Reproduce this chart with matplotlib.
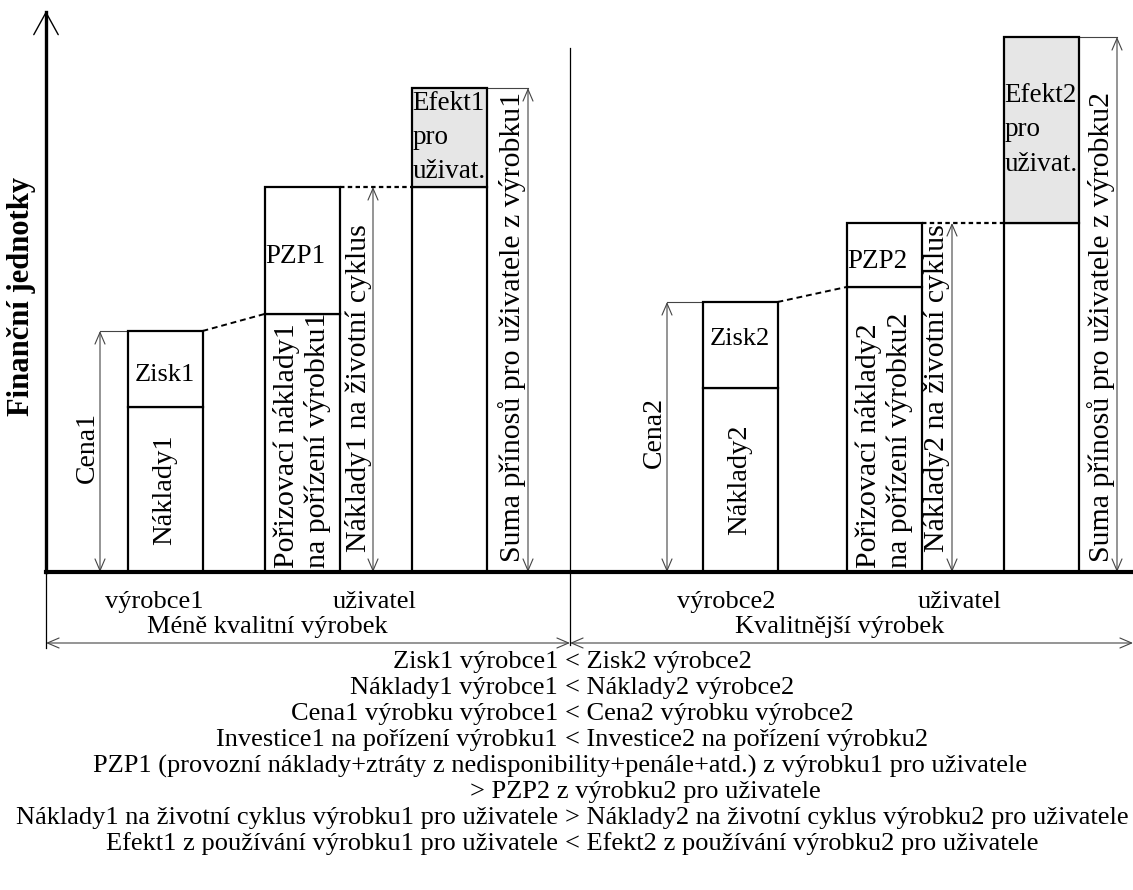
import matplotlib.pyplot as plt

plt.rcParams['font.family'] = ['Liberation Serif', 'DejaVu Serif']

# hodnoty ve financnich jednotkach: [mene kvalitni vyrobek, kvalitnejsi vyrobek]
naklady = [165, 184]
zisk = [76, 86]
porizovaci = [258, 285]
pzp = [127, 64]
efekt = [99, 186]

cena = [n + z for n, z in zip(naklady, zisk)]
zivotni = [p + q for p, q in zip(porizovaci, pzp)]
suma = [z + e for z, e in zip(zivotni, efekt)]

skupiny = ['Méně kvalitní výrobek', 'Kvalitnější výrobek']
# porovnani: (leva cast, prava cast se znamenkem)
porovnani = [
    ('Zisk1 výrobce1', '< Zisk2 výrobce2'),
    ('Náklady1 výrobce1', '< Náklady2 výrobce2'),
    ('Cena1 výrobku výrobce1', '< Cena2 výrobku výrobce2'),
    ('Investice1 na pořízení výrobku1', '< Investice2 na pořízení výrobku2'),
    ('PZP1 (provozní náklady+ztráty z nedisponibility+penále+atd.) z výrobku1 pro uživatele', None),
    (None, '> PZP2 z výrobku2 pro uživatele'),
    ('Náklady1 na životní cyklus výrobku1 pro uživatele', '> Náklady2 na životní cyklus výrobku2 pro uživatele'),
    ('Efekt1 z používání výrobku1 pro uživatele', '< Efekt2 z používání výrobku2 pro uživatele'),
]

# rozlozeni (x pozice sloupcu a sipek)
w = 75
x_vyr = [165, 740]
x_uziv = [302, 884]
x_ef = [449, 1041]
x_cena = [100, 667]
x_ziv = [373, 952]
x_suma = [528, 1117]
x_sep = 570
x_osa = 46

fig = plt.figure(figsize=(11.33, 8.9), dpi=100)
ax = fig.add_axes([0, 0, 1, 1])
ax.set_xlim(0, 1133)
ax.set_ylim(-318, 572)
ax.axis('off')

bar_kw = dict(width=w, edgecolor='black', linewidth=1.6, zorder=3)
big = 19
rot = 21.5
thin = dict(arrowstyle='<->,head_length=0.7,head_width=0.3', color='#444444',
            lw=0.8, shrinkA=0, shrinkB=0, mutation_scale=12)

for i in range(2):
    n = i + 1
    # vyrobce
    ax.bar(x_vyr[i], naklady[i], color='white', **bar_kw)
    ax.bar(x_vyr[i], zisk[i], bottom=naklady[i], color='white', **bar_kw)
    # uzivatel - porizovaci naklady + PZP
    ax.bar(x_uziv[i], porizovaci[i], color='white', **bar_kw)
    ax.bar(x_uziv[i], pzp[i], bottom=porizovaci[i], color='white', **bar_kw)
    # efekt
    ax.bar(x_ef[i], zivotni[i], color='white', **bar_kw)
    ax.bar(x_ef[i], efekt[i], bottom=zivotni[i], color='#e6e6e6', **bar_kw)

    # spojnice
    ax.plot([x_vyr[i] + w / 2, x_uziv[i] - w / 2], [cena[i], porizovaci[i]],
            color='black', lw=1.4, ls=(0, (3, 2)), zorder=2)
    ax.plot([x_uziv[i] + w / 2, x_ef[i] - w / 2], [zivotni[i], zivotni[i]],
            color='black', lw=1.6, ls=(0, (2, 1.5)), zorder=2)

    # kotovaci sipky
    ax.annotate('', xy=(x_cena[i], cena[i]), xytext=(x_cena[i], 0), arrowprops=thin)
    ax.plot([x_cena[i], x_vyr[i] - w / 2], [cena[i], cena[i]], color='#444444', lw=0.8)
    ax.annotate('', xy=(x_ziv[i], zivotni[i]), xytext=(x_ziv[i], 0), arrowprops=thin)
    ax.annotate('', xy=(x_suma[i], suma[i]), xytext=(x_suma[i], 0), arrowprops=thin)
    ax.plot([x_ef[i] + w / 2, x_suma[i]], [suma[i], suma[i]], color='#444444', lw=0.8)

    # popisky
    ax.text(x_cena[i] - 13, cena[i] / 2 + 4, f'Cena{n}', rotation=90, fontsize=20,
            ha='center', va='center')
    ax.text(x_vyr[i], naklady[i] / 2, f'Náklady{n}', rotation=90, fontsize=20.5,
            ha='center', va='center', zorder=4)
    ax.text(x_vyr[i], naklady[i] + zisk[i] / 2 + [-6, 6][i], f'Zisk{n}', fontsize=big,
            ha='center', va='center', zorder=4)
    ax.text(x_uziv[i] - w / 2 + 1, porizovaci[i] + pzp[i] / 2 - 6, f'PZP{n}', fontsize=19.5,
            ha='left', va='center', zorder=4)
    ax.text(x_uziv[i], 4, f'Pořizovací náklady{n}\nna pořízení výrobku{n}', rotation=90,
            rotation_mode='anchor', fontsize=rot, ha='left', va='center',
            multialignment='left', linespacing=1.2, zorder=4)
    ax.text(x_ziv[i] - 15, 20, f'Náklady{n} na životní cyklus', rotation=90,
            rotation_mode='anchor', fontsize=rot, ha='left', va='center', zorder=4)
    ax.text(x_suma[i] - 16, 10, f'Suma přínosů pro uživatele z výrobku{n}', rotation=90,
            rotation_mode='anchor', fontsize=rot, ha='left', va='center', zorder=4)
    ax.text(x_ef[i] - w / 2 + 1, zivotni[i] + efekt[i] / 2, f'Efekt{n}\npro\nuživat.',
            fontsize=19.5, ha='left', va='center', linespacing=1.5, zorder=4)

    ax.text([154, 726][i], -30, f'výrobce{n}', fontsize=big, ha='center', va='center')
    ax.text([375, 960][i], -30, 'uživatel', fontsize=big, ha='center', va='center')
    ax.text([267, 840][i], -55, skupiny[i], fontsize=big, ha='center', va='center')

# osy
ax.plot([x_osa, 1133], [0, 0], color='black', lw=3, zorder=5)
ax.plot([x_osa, x_osa], [0, 560], color='black', lw=2.4, zorder=5)
ax.annotate('', xy=(x_osa, 561), xytext=(x_osa, 530),
            arrowprops=dict(arrowstyle='->,head_length=1.0,head_width=0.55', color='black',
                            lw=1.0, shrinkA=0, shrinkB=0, mutation_scale=16))
ax.plot([x_osa, x_osa], [0, -76], color='black', lw=0.9)
ax.plot([x_sep, x_sep], [524, -73], color='black', lw=0.9)
ax.annotate('', xy=(x_osa, -71), xytext=(x_sep, -71), arrowprops=thin)
ax.annotate('', xy=(x_sep, -71), xytext=(1133, -71), arrowprops=thin)

ax.text(22, 276, 'Finanční jednotky', rotation=90, fontsize=22, fontweight='bold',
        ha='center', va='center')

for k, (levy, pravy) in enumerate(porovnani):
    y = -90 - k * 26.0
    if levy and pravy:
        ax.text(558, y, levy, fontsize=big, ha='right', va='center')
        ax.text(565, y, pravy, fontsize=big, ha='left', va='center')
    elif levy:
        ax.text(560, y, levy, fontsize=big, ha='center', va='center')
    else:
        ax.text(470, y, pravy, fontsize=big, ha='left', va='center')

plt.savefig('out.png', dpi=100)
